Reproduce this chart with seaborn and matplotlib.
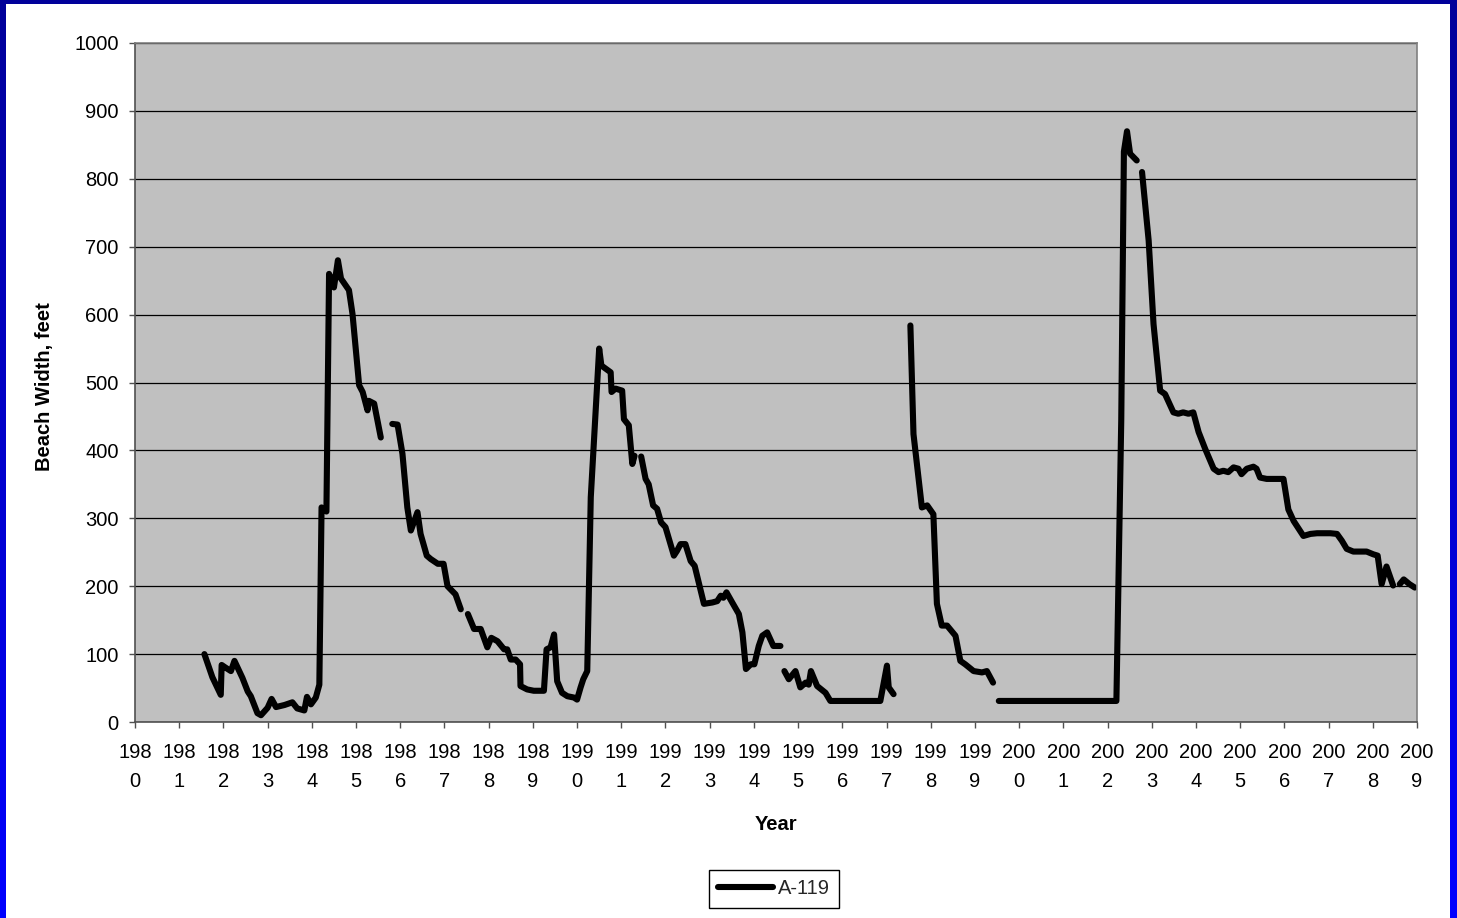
import numpy as np
import pandas as pd
import matplotlib
matplotlib.use("Agg")
import matplotlib.pyplot as plt
from matplotlib.lines import Line2D
from matplotlib.patches import Rectangle
import seaborn as sns

# ---------------- data ----------------
series_name = "A-119"
x_label = "Year"
y_label = "Beach Width, feet"
tick_years = list(range(1980, 2010))
y_ticks = list(range(0, 1001, 100))

# segment 1
seg1_year = [1981.57, 1981.75, 1981.94, 1981.96, 1982.05, 1982.17, 1982.25, 1982.43, 1982.55, 1982.62,
             1982.77, 1982.85, 1983.00, 1983.09, 1983.19, 1983.38, 1983.56, 1983.67, 1983.83, 1983.89,
             1983.98, 1984.09, 1984.17, 1984.22, 1984.33, 1984.39, 1984.50, 1984.59, 1984.66, 1984.84,
             1984.92, 1985.07, 1985.15, 1985.26, 1985.29, 1985.41, 1985.56]
seg1_width = [100, 66, 40, 84, 80, 75, 90, 65, 45, 38,
              13, 10, 21, 34, 22, 25, 29, 20, 17, 37,
              26, 36, 55, 316, 310, 660, 640, 680, 653, 636,
              601, 496, 486, 459, 473, 469, 419]
# segment 2
seg2_year = [1985.82, 1985.94, 1986.05, 1986.16, 1986.24, 1986.39, 1986.46, 1986.60, 1986.69, 1986.85,
             1986.98, 1987.07, 1987.25, 1987.37]
seg2_width = [439, 438, 395, 316, 282, 309, 277, 245, 240, 233,
              233, 200, 188, 166]
# segment 3
seg3_year = [1987.53, 1987.67, 1987.82, 1987.97, 1988.06, 1988.20, 1988.35, 1988.42, 1988.50, 1988.61,
             1988.71, 1988.72, 1988.87, 1989.02, 1989.25, 1989.31, 1989.40, 1989.48, 1989.55, 1989.66,
             1989.78, 1989.93, 1990.00, 1990.08, 1990.14, 1990.23, 1990.31, 1990.50, 1990.55, 1990.76,
             1990.78, 1990.87, 1991.02, 1991.06, 1991.17, 1991.25, 1991.30]
seg3_width = [159, 137, 137, 110, 124, 119, 107, 107, 92, 92,
              85, 53, 48, 46, 46, 107, 110, 129, 60, 43,
              38, 36, 33, 51, 63, 75, 331, 550, 525, 515,
              486, 491, 488, 446, 437, 380, 392]
# segment 4
seg4_year = [1991.45, 1991.55, 1991.62, 1991.72, 1991.81, 1991.90, 1992.00, 1992.19, 1992.26, 1992.34,
             1992.45, 1992.57, 1992.66, 1992.87, 1993.06, 1993.17, 1993.25, 1993.31, 1993.38, 1993.51,
             1993.66, 1993.74, 1993.82, 1993.93, 1994.01, 1994.11, 1994.19, 1994.30, 1994.44, 1994.60]
seg4_width = [391, 358, 350, 319, 314, 294, 287, 245, 252, 262,
              262, 237, 230, 174, 176, 178, 186, 183, 191, 176,
              159, 132, 78, 85, 85, 112, 127, 132, 112, 112]
# segment 5
seg5_year = [1994.69, 1994.79, 1994.94, 1995.05, 1995.17, 1995.24, 1995.29, 1995.43, 1995.62, 1995.73,
             1996.86, 1997.01, 1997.05, 1997.16]
seg5_width = [75, 63, 75, 51, 58, 55, 75, 53, 43, 31,
              31, 83, 51, 41]
# segment 6
seg6_year = [1997.54, 1997.61, 1997.80, 1997.92, 1998.06, 1998.14, 1998.25, 1998.37, 1998.56, 1998.67,
             1998.78, 1998.97, 1999.16, 1999.27, 1999.41]
seg6_width = [584, 424, 316, 319, 306, 174, 142, 142, 127, 90,
              85, 75, 73, 75, 58]
# segment 7
seg7_year = [1999.54, 2002.20, 2002.31, 2002.37, 2002.44, 2002.51, 2002.66]
seg7_width = [31, 31, 445, 840, 870, 837, 827]
# segment 8
seg8_year = [2002.78, 2002.93, 2003.04, 2003.19, 2003.30, 2003.49, 2003.60, 2003.71, 2003.83, 2003.94,
             2004.06, 2004.21, 2004.40, 2004.51, 2004.62, 2004.73, 2004.85, 2004.96, 2005.03, 2005.15,
             2005.30, 2005.37, 2005.45, 2005.60, 2005.98, 2006.09, 2006.21, 2006.43, 2006.59, 2006.74,
             2006.88, 2007.04, 2007.19, 2007.30, 2007.41, 2007.56, 2007.86, 2008.01, 2008.11, 2008.20,
             2008.31, 2008.46]
seg8_width = [810, 709, 586, 488, 483, 456, 454, 456, 454, 456,
              427, 402, 373, 368, 370, 368, 375, 373, 365, 373,
              376, 373, 360, 358, 358, 313, 296, 274, 277, 278,
              278, 278, 277, 267, 255, 251, 251, 247, 245, 203,
              229, 201]
# segment 9
seg9_year = [2008.61, 2008.70, 2008.83, 2008.95]
seg9_width = [203, 210, 203, 198]

segments = [(seg1_year, seg1_width), (seg2_year, seg2_width), (seg3_year, seg3_width),
            (seg4_year, seg4_width), (seg5_year, seg5_width), (seg6_year, seg6_width),
            (seg7_year, seg7_width), (seg8_year, seg8_width), (seg9_year, seg9_width)]

frames = []
for i, (yrs, wds) in enumerate(segments):
    frames.append(pd.DataFrame({"Year": yrs, "Width": wds, "seg": i}))
df = pd.concat(frames, ignore_index=True)

# ---------------- style ----------------
sns.set_theme(style="white")
plt.rcParams["font.family"] = ["Liberation Sans", "DejaVu Sans"]

W, H = 1457, 918
fig = plt.figure(figsize=(W / 100, H / 100), dpi=100)

# blue frame (gradient) behind a white page
bg = fig.add_axes([0, 0, 1, 1], zorder=-10)
grad = np.linspace(0, 1, 256).reshape(-1, 1)
cmap = matplotlib.colors.LinearSegmentedColormap.from_list("b", ["#0000FF", "#00009A"])
bg.imshow(grad, aspect="auto", cmap=cmap, extent=[0, 1, 0, 1], origin="lower")
bg.set_axis_off()
bl, bt, br, bb = 6, 4, 7, 0
bg.add_patch(Rectangle((bl / W, bb / H), 1 - (bl + br) / W, 1 - (bt + bb) / H,
                       transform=bg.transAxes, facecolor="white", edgecolor="none"))

left, right, bottom, top = 135, 1417, 722, 43
ax = fig.add_axes([left / W, (H - bottom) / H, (right - left) / W, (bottom - top) / H])
ax.set_facecolor("#C0C0C0")

sns.lineplot(data=df, x="Year", y="Width", units="seg", estimator=None,
             color="black", linewidth=4.4, legend=False, ax=ax,
             solid_capstyle="round", solid_joinstyle="round")

ax.set_xlim(1980, 2009)
ax.set_ylim(0, 1000)
ax.set_xticks(tick_years)
ax.set_xticklabels([f"{str(y)[:3]}\n{str(y)[3:]}" for y in tick_years], linespacing=1.7)
ax.set_yticks(y_ticks)
ax.set_yticklabels([str(v) for v in y_ticks])

ax.yaxis.grid(True, color="black", linewidth=0.9)
ax.xaxis.grid(False)
ax.set_axisbelow(True)

for side in ["left", "bottom"]:
    ax.spines[side].set_color("#505050")
    ax.spines[side].set_linewidth(1.2)
for side in ["right", "top"]:
    ax.spines[side].set_color("#808080")
    ax.spines[side].set_linewidth(1.2)

ax.tick_params(axis="both", which="major", direction="out", length=4.3, width=1,
               color="#505050", labelsize=14.5, labelcolor="black")
ax.tick_params(axis="y", pad=7.5, left=True)
ax.tick_params(axis="x", pad=10.5, bottom=True)

ax.set_xlabel(x_label, fontsize=14.5, fontweight="bold", color="black")
ax.xaxis.label.set_va("center")
ax.xaxis.set_label_coords(0.5, (bottom - 824) / (bottom - top))
ax.set_ylabel(y_label, fontsize=14.5, fontweight="bold", color="black")
ax.yaxis.label.set_va("center")
ax.yaxis.set_label_coords((45 - left) / (right - left), (bottom - 386.5) / (bottom - top))

handle = Line2D([], [], color="black", linewidth=4.4, solid_capstyle="round")
leg = fig.legend([handle], [series_name], loc="center",
                 bbox_to_anchor=(774 / W, (H - 889) / H),
                 fontsize=14.5, frameon=True, fancybox=False, shadow=False,
                 handlelength=2.75, handletextpad=0.25, borderpad=0.45, borderaxespad=0)
leg.get_frame().set_edgecolor("black")
leg.get_frame().set_linewidth(1.0)
leg.get_frame().set_facecolor("white")
leg.get_frame().set_alpha(1)

fig.savefig("out.png", dpi=100)
